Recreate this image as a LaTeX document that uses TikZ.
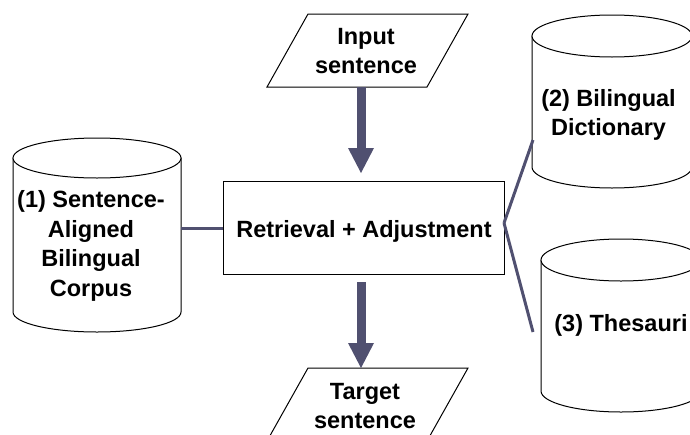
\documentclass[tikz,border=0pt]{standalone}
\usepackage{fontspec}
\setmainfont{Liberation Sans}
\usetikzlibrary{arrows.meta}
\definecolor{slate}{RGB}{80,80,112}
\begin{document}
\begin{tikzpicture}[x=1pt,y=-1pt,
  outline/.style={draw=black, line width=1pt, fill=white},
  lbl/.style={font=\fontsize{23.5}{29.5}\selectfont\bfseries, align=center, inner sep=0pt},
  link/.style={draw=slate, line width=3pt},
  bigarrow/.style={draw=slate, line width=9pt, -{Triangle[width=26pt,length=25pt,line width=0pt]}}]
\useasboundingbox (0,0) rectangle (690,434);
\clip (0,0) rectangle (690,434);

% cylinder 1
\path[outline] (13,158) -- (13,312) arc[start angle=180, end angle=360, x radius=84pt, y radius=20pt] -- (181,158) -- cycle;
\draw[outline] (97,158) ellipse[x radius=84pt, y radius=20pt];
\node[lbl] (corpus) at (91,246) {(1) Sentence-\\Aligned\\Bilingual\\Corpus};
\coordinate (cylA) at (181,228);

% cylinder 2
\path[outline] (532,36) -- (532,167) arc[start angle=180, end angle=360, x radius=80pt, y radius=21pt] -- (692,36) -- cycle;
\draw[outline] (612,36) ellipse[x radius=80pt, y radius=21pt];
\node[lbl] (dict) at (608.5,115) {(2) Bilingual\\Dictionary};
\coordinate (cylB) at (533,140);

% cylinder 3
\path[outline] (541,260) -- (541,391) arc[start angle=180, end angle=360, x radius=80pt, y radius=21pt] -- (701,260) -- cycle;
\draw[outline] (621,260) ellipse[x radius=80pt, y radius=21pt];
\node[lbl] (thes) at (621,325) {(3) Thesauri};
\coordinate (cylC) at (533,332);

% input parallelogram
\draw[outline] (308,14) -- (468,14) -- (427,87) -- (267,87) -- cycle;
\node[lbl] (input) at (366,51) {Input\\sentence};
\coordinate (inBot) at (361,87);

% target parallelogram
\draw[outline] (308,368) -- (468,368) -- (427,441) -- (267,441) -- cycle;
\node[lbl] (target) at (365,406) {Target\\sentence};
\coordinate (tgTop) at (361,368);

% central box
\node[draw=black, line width=1pt, fill=white, minimum width=281pt, minimum height=93pt, inner sep=0pt] (box) at (363.5,227.5) {};
\node[lbl] (boxlbl) at (364,231) {Retrieval + Adjustment};
\coordinate (boxTop) at (361,173);
\coordinate (boxBot) at (361,282);
\coordinate (hub) at (504,223);

% connectors
\draw[link] (cylA) -- (box.west |- cylA);
\draw[link] (hub) -- (cylB);
\draw[link] (hub) -- (cylC);
\draw[bigarrow] (inBot) -- (boxTop);
\draw[bigarrow] (boxBot) -- (tgTop);
\end{tikzpicture}
\end{document}
